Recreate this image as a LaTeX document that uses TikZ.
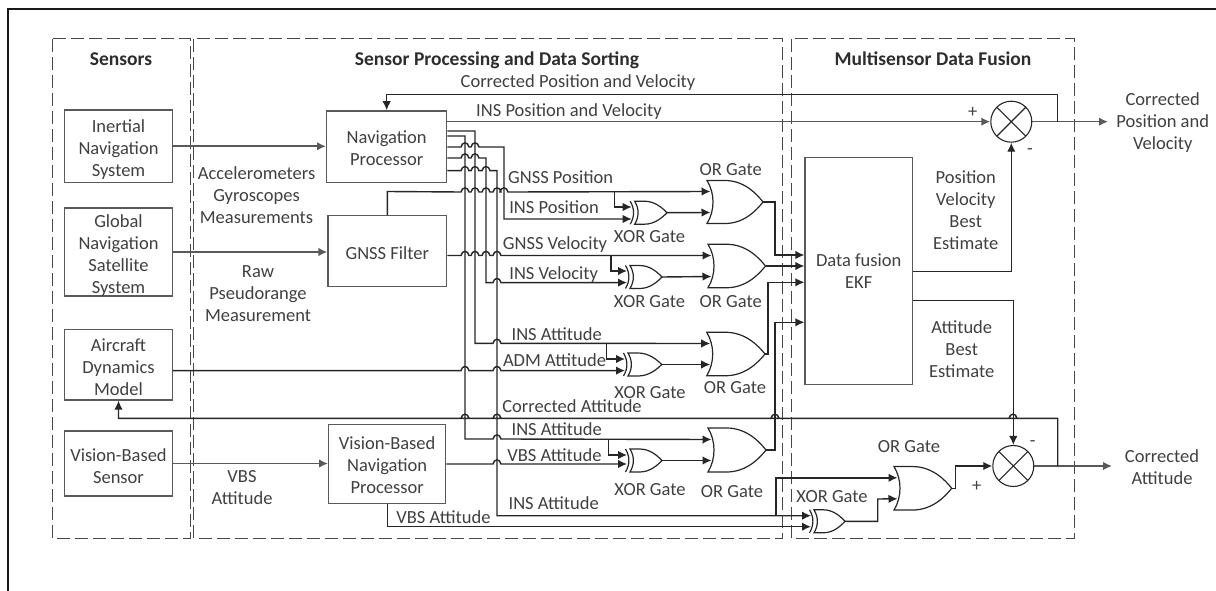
\documentclass[tikz,border=0pt]{standalone}
\usepackage{fontspec}
\setmainfont{Carlito}
\usetikzlibrary{arrows.meta,calc}
\definecolor{txt}{HTML}{404040}
\definecolor{gry}{HTML}{595959}
\definecolor{drk}{HTML}{262626}
\def\hp#1#2{-- ({#1-4},#2) .. controls ({#1-3},{#2-5.5}) and ({#1+3},{#2-5.5}) .. ({#1+4},#2)}
\newcommand\dn[1]{\rule{0pt}{#1pt}}
% OR gate: name, left x, centre y, width, height
\newcommand\orgate[5]{%
  \draw[gateline] (#2,{#3-#5/2}) -- ({#2+.32*#4},{#3-#5/2})
    .. controls ({#2+.66*#4},{#3-#5/2}) and ({#2+.88*#4},{#3-.2*#5}) .. ({#2+#4},#3)
    .. controls ({#2+.88*#4},{#3+.2*#5}) and ({#2+.66*#4},{#3+#5/2}) .. ({#2+.32*#4},{#3+#5/2})
    -- (#2,{#3+#5/2})
    .. controls ({#2+8},{#3+.2*#5}) and ({#2+8},{#3-.2*#5}) .. cycle;
  \coordinate (#1a) at ({#2+3.5},{#3-10.5});
  \coordinate (#1b) at ({#2+3.5},{#3+10.5});
  \coordinate (#1o) at ({#2+#4},#3);}
% XOR gate: name, body left x, centre y, width, top input y, lower input y
\newcommand\xorgate[6]{%
  \draw[gateline] (#2,{#3-11.5}) -- ({#2+.3*#4},{#3-11.5})
    .. controls ({#2+.62*#4},{#3-11.5}) and ({#2+.85*#4},{#3-5}) .. ({#2+#4},#3)
    .. controls ({#2+.85*#4},{#3+5}) and ({#2+.62*#4},{#3+11.5}) .. ({#2+.3*#4},{#3+11.5})
    -- (#2,{#3+11.5})
    .. controls ({#2+4.5},{#3+4}) and ({#2+4.5},{#3-4}) .. cycle;
  \draw[gateline] ({#2-4.5},{#3-11.5}) .. controls ({#2},{#3-4}) and ({#2},{#3+4}) .. ({#2-4.5},{#3+11.5});
  \coordinate (#1a) at ({#2-3},#5);
  \coordinate (#1b) at ({#2-3},#6);
  \coordinate (#1o) at ({#2+#4},#3);}
\tikzset{
  blk/.style={draw=gry,line width=1.4pt,inner sep=0pt,align=center,text=txt,font=\fontsize{18.5}{22}\selectfont},
  lab/.style={inner sep=0pt,text=txt,font=\fontsize{18.5}{22}\selectfont,align=center,text height=15pt,text depth=3pt},
  mlab/.style={inner sep=0pt,text=txt,font=\fontsize{18.5}{22}\selectfont,align=center},
  head/.style={inner sep=0pt,text=txt!70!black,font=\fontsize{19.5}{22}\selectfont\bfseries,text height=17pt,text depth=3pt},
  panel/.style={draw=gry!80!black,line width=1pt,dash pattern=on 13pt off 5pt},
  wire/.style={draw=drk,line width=1.4pt},
  gwire/.style={draw=gry,line width=1.6pt},
  gateline/.style={draw=drk,line width=1.2pt,line join=miter},
  tip/.style={-{Latex[length=9pt,width=8.5pt]}},
  sumnode/.style={circle,draw=drk,line width=1.1pt,minimum size=41pt,inner sep=0pt,
    path picture={\draw[drk,line width=1.1pt] (path picture bounding box.north west)--(path picture bounding box.south east)
      (path picture bounding box.north east)--(path picture bounding box.south west);}},
}
\begin{document}
\begin{tikzpicture}[x=1pt,y=-1pt]
\useasboundingbox (0,0) rectangle (1216,591);
\draw[black!90,line width=2.4pt] (1216,9) -- (8,9) -- (8,591);
% panels
\draw[panel] (52,39) rectangle (190,538);
\draw[panel] (193.5,39) rectangle (782.7,538);
\draw[panel] (791.3,39) rectangle (1074.7,538);
\node[head] (hs) at (121,59) {Sensors};
\node[head] (hp) at (497,59) {Sensor Processing and Data Sorting};
\node[head] (hf) at (933,59) {Multisensor Data Fusion};
% sensor boxes
\node[blk,minimum width=108pt,minimum height=72.5pt] (ins) at (118.5,146.3) {\dn{20}Inertial\\Navigation\\System};
\node[blk,minimum width=108pt,minimum height=84pt] (gns) at (118.5,252) {\dn{19}Global\\Navigation\\Satellite\\System};
\node[blk,minimum width=108pt,minimum height=70.5pt] (adm) at (118.5,364.7) {\dn{18}Aircraft\\Dynamics\\Model};
\node[blk,minimum width=108pt,minimum height=65pt] (vbs) at (118.5,463.5) {\dn{19}Vision-Based\\Sensor};
% processing boxes
\node[blk,minimum width=120pt,minimum height=71.7pt] (nav) at (386.7,146.8) {\dn{16}Navigation\\Processor};
\node[blk,minimum width=118.5pt,minimum height=71pt] (flt) at (387.3,251.2) {\dn{16}GNSS Filter};
\node[blk,minimum width=117pt,minimum height=79.4pt] (vbn) at (387.2,464) {\dn{16}Vision-Based\\Navigation\\Processor};
\node[blk,minimum width=107.3pt,minimum height=227pt] (ekf) at (858.7,271.2) {Data fusion\\EKF};
% summing junctions
\node[sumnode] (s1) at (1011.3,121.7) {};
\node[sumnode] (s2) at (1013.3,466) {};
% gates
\orgate{o1}{707}{202}{56}{43}
\orgate{o2}{708}{266}{57.5}{43.5}
\orgate{o3}{706.7}{354}{58.3}{43.5}
\orgate{o4}{708}{450}{58}{44}
\orgate{o5}{894}{488.3}{57.7}{43.5}
\xorgate{x1}{634.7}{212.7}{32.3}{207}{219}
\xorgate{x2}{630}{277}{32}{271}{282.6}
\xorgate{x3}{628}{364.5}{33.7}{359}{370.6}
\xorgate{x4}{630}{460.5}{32}{455}{464}
\xorgate{x5}{814}{521.3}{31}{515.7}{526.7}
% sensor links
\draw[gwire,tip] (ins.east) -- (nav.west |- ins.east);
\draw[gwire,tip] (gns.east) -- (flt.west |- gns.east);
\draw[gwire,tip] (vbs.east) -- (vbn.west |- vbs.east);
% navigation processor outputs
\draw[gwire,tip] (nav.east |- s1.west) -- (s1.west);
\draw[wire,tip] (nav.east |- 0,131) -- (475,131) -- (475,343.3) \hp{497}{343.3} -- (o3a);
\draw[wire,tip] (nav.east |- 0,136) -- (465,136) -- (465,439) \hp{497}{439} -- (o4a);
\draw[wire,tip] (nav.east |- 0,147) \hp{465}{147} \hp{475}{147} -- (504,147) -- (504,219) -- (x1b);
\draw[wire,tip] (nav.east |- 0,158) \hp{465}{158} \hp{475}{158} -- (486,158) -- (486,282.6) \hp{497}{282.6} -- (x2b);
\draw[wire,tip] (nav.east |- 0,170.7) \hp{465}{170.7} \hp{475}{170.7} \hp{486}{170.7} -- (497,170.7) -- (497,515.7) -- (x5a);
% GNSS filter outputs
\draw[wire,tip] (flt.north) -- (flt.north |- o1a) \hp{465}{192} \hp{475}{192} \hp{486}{192} \hp{497}{192} \hp{504}{192} -- (o1a);
\draw[wire,tip] (614.7,192) |- (x1a);
\draw[wire,tip] (flt.east |- o2a) \hp{465}{255.5} \hp{475}{255.5} \hp{486}{255.5} \hp{497}{255.5} -- (o2a);
\draw[wire,tip] (611,255.5) |- (x2a);
% ADM, VBN
\draw[wire,tip] (adm.east |- x3b) \hp{465}{370.6} \hp{497}{370.6} -- (x3b);
\draw[wire,tip] (606.7,343.3) |- (x3a);
\draw[wire,tip] (vbn.east |- x4b) \hp{497}{464} -- (x4b);
\draw[wire,tip] (608.3,439) |- (x4a);
\draw[wire,tip] (vbn.south) -- (vbn.south |- x5b) -- (x5b);
\draw[wire,tip] (776,515.7) -- (776,477.8) -- (o5a);
% gate to gate
\draw[wire,tip] (x1o) -- (o1b);
\draw[wire,tip] (x2o) -- (o2b);
\draw[wire,tip] (x3o) -- (o3b);
\draw[wire,tip] (x4o) -- (o4b);
\draw[wire,tip] (x5o) -- (877.7,521.3) -- (877.7,499) -- (o5b);
% OR outputs to EKF
\draw[wire,tip] (o1o) -- (775,202) -- (775,255) -- (ekf.west |- 0,255);
\draw[wire,tip] (o2o) -- (ekf.west |- o2o);
\draw[wire,tip] (o3o) -- (768,354) -- (768,282.3) -- (ekf.west |- 0,282.3);
\draw[wire,tip] (o4o) -- (775,450) -- (775,322.3) -- (ekf.west |- 0,322.3);
\draw[wire,tip] (o5o) -- (955.7,488.3) -- (955.7,466) -- (s2.west);
% EKF outputs
\draw[wire,tip] (ekf.east |- 0,271.7) -| (s1.south);
\draw[wire,tip] (ekf.east |- 0,300.7) -| (s2.north);
% outputs and feedback
\coordinate (j1) at (1057.7,121.7);
\coordinate (j2) at (1057.7,466);
\coordinate (e1) at (1108,121.7);
\coordinate (e2) at (1112,466);
\draw[gwire,tip] (s1.east) -- (e1);
\draw[gwire,tip] (s2.east) -- (e2);
\draw[wire,tip] (j1) -- (1057.7,94.7) -| (nav.north);
\draw[wire,tip] (j2) -- (1057.7,418.3) \hp{1013}{418.3} \hp{775}{418.3} \hp{497}{418.3} \hp{465}{418.3} -| (adm.south);
% labels
\node[mlab] (l1) at (256.5,195.5) {Accelerometers\\Gyroscopes\\Measurements};
\node[mlab] (l2) at (258,294) {Raw\\Pseudorange\\Measurement};
\node[mlab] (l3) at (242,488) {VBS\\Attitude};
\node[lab] (t1) at (578,82) {Corrected Position and Velocity};
\node[lab] (t2) at (569,111) {INS Position and Velocity};
\node[lab] (t3) at (560.7,178) {GNSS Position};
\node[lab] (t4) at (554,208) {INS Position};
\node[lab] (t5) at (555,243) {GNSS Velocity};
\node[lab] (t6) at (553.7,273) {INS Velocity};
\node[lab] (t7) at (556.7,334) {INS Attitude};
\node[lab] (t8) at (554.5,360.7) {ADM Attitude};
\node[lab] (t9) at (572,406.7) {Corrected Attitude};
\node[lab] (t10) at (556.7,429) {INS Attitude};
\node[lab] (t11) at (554.5,455.7) {VBS Attitude};
\node[lab] (t12) at (553.7,503) {INS Attitude};
\node[lab] (t13) at (443.5,517) {VBS Attitude};
\node[lab] (g1) at (649.5,236.7) {XOR Gate};
\node[lab] (g2) at (649.5,301.7) {XOR Gate};
\node[lab] (g3) at (650,392.3) {XOR Gate};
\node[lab] (g4) at (650,489) {XOR Gate};
\node[lab] (g5) at (832,496) {XOR Gate};
\node[lab] (g6) at (730.7,169.3) {OR Gate};
\node[lab] (g7) at (730.7,301.7) {OR Gate};
\node[lab] (g8) at (735,387.3) {OR Gate};
\node[lab] (g9) at (732,491) {OR Gate};
\node[lab] (g10) at (909,446) {OR Gate};
\node[lab] (p1) at (972.7,111.7) {+};
\node[lab] (m1) at (1030,149) {-};
\node[lab] (m2) at (1032.7,440) {-};
\node[lab] (p2) at (976.7,485) {+};
\node[mlab] (b1) at (965.7,210) {Position\\Velocity\\Best\\Estimate};
\node[mlab] (b2) at (961.7,349) {Attitude\\Best\\Estimate};
\node[mlab] (c1) at (1162.7,123) {Corrected\\Position and\\Velocity};
\node[mlab] (c2) at (1162,467) {Corrected\\Attitude};
\end{tikzpicture}
\end{document}
